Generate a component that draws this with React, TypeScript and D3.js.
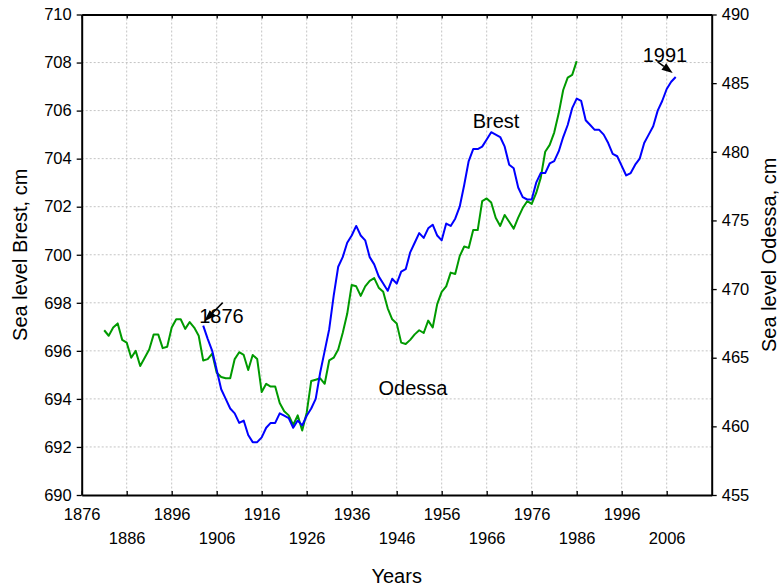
import React, { useRef, useEffect } from 'react';
import * as d3 from 'd3';

const W = 783;
const H = 587;
const plot = { left: 81.7, right: 711.7, top: 14.5, bottom: 495 };

// tick values
const yearTicks = [1876, 1886, 1896, 1906, 1916, 1926, 1936, 1946, 1956, 1966, 1976, 1986, 1996, 2006];
const brestTicks = [690, 692, 694, 696, 698, 700, 702, 704, 706, 708, 710];
const odessaTicks = [455, 460, 465, 470, 475, 480, 485, 490];

// Odessa sea level (right axis), yearly from 1881
const odessaStart = 1881;
const odessaLevel = [
    467.0, 466.6, 467.2, 467.5, 466.3, 466.1, 465.0, 465.5, 464.4, 465.0,
    465.6, 466.7, 466.7, 465.7, 465.8, 467.2, 467.8, 467.8, 467.1, 467.6,
    467.2, 466.6, 464.8, 464.9, 465.3, 463.9, 463.6, 463.5, 463.5, 464.9,
    465.4, 465.2, 464.1, 465.2, 464.9, 462.5, 463.1, 462.9, 462.9, 461.7,
    461.1, 460.8, 460.1, 460.8, 459.7, 461.0, 463.3, 463.4, 463.5, 463.1,
    464.8, 465.0, 465.6, 466.8, 468.2, 470.3, 470.2, 469.5, 470.2, 470.6,
    470.8, 470.1, 469.8, 468.6, 467.8, 467.5, 466.1, 466.0, 466.3, 466.7,
    467.0, 466.8, 467.7, 467.2, 468.9, 469.8, 470.2, 471.2, 471.1, 472.4,
    473.1, 473.0, 474.3, 474.3, 476.4, 476.6, 476.3, 475.2, 474.6, 475.4,
    474.9, 474.4, 475.2, 475.9, 476.4, 476.2, 477.0, 478.1, 480.0, 480.5,
    481.4, 482.8, 484.5, 485.4, 485.6, 486.6
];

// Brest sea level (left axis), plotted from 1903 (shifted series)
const brestStart = 1903;
const brestLevel = [
    697.05, 696.5, 696.0, 695.2, 694.4, 694.0, 693.6, 693.4, 693.0, 693.1,
    692.5, 692.2, 692.2, 692.4, 692.8, 693.0, 693.0, 693.4, 693.3, 693.2,
    692.8, 693.1, 692.9, 693.3, 693.6, 694.0, 695.1, 696.0, 696.9, 698.3,
    699.5, 699.9, 700.5, 700.8, 701.2, 700.8, 700.6, 699.9, 699.6, 699.1,
    698.8, 698.5, 699.0, 698.8, 699.3, 699.4, 700.1, 700.5, 700.9, 700.7,
    701.1, 701.25, 700.8, 700.6, 701.3, 701.2, 701.5, 702.0, 702.9, 703.9,
    704.4, 704.4, 704.5, 704.8, 705.1, 705.0, 704.9, 704.5, 703.75, 703.6,
    702.8, 702.4, 702.3, 702.3, 703.0, 703.4, 703.4, 703.8, 703.9, 704.3,
    704.9, 705.4, 706.1, 706.5, 706.4, 705.6, 705.4, 705.2, 705.2, 705.0,
    704.65, 704.2, 704.1, 703.7, 703.3, 703.4, 703.75, 704.0, 704.65, 705.0,
    705.35, 706.0, 706.4, 706.9, 707.2, 707.4
];

const FONT = "'Liberation Sans', Arial, Helvetica, sans-serif";

const SeaLevelChart = () => {
    const ref = useRef<SVGSVGElement | null>(null);

    useEffect(() => {
        const svg = d3.select(ref.current);
        if (!ref.current) return;
        svg.selectAll("*").remove();

        const x = d3.scaleLinear().domain([1876, 2016]).range([plot.left, plot.right]);
        const yL = d3.scaleLinear().domain([690, 710]).range([plot.bottom, plot.top]);
        const yR = d3.scaleLinear().domain([455, 490]).range([plot.bottom, plot.top]);

        // grid
        const grid = svg.append("g")
            .attr("stroke", "#c4c4c4")
            .attr("stroke-width", 1)
            .attr("stroke-dasharray", "2,2");
        grid.selectAll("line.v")
            .data(yearTicks.slice(1))
            .enter().append("line")
            .attr("x1", d => x(d)).attr("x2", d => x(d))
            .attr("y1", plot.top).attr("y2", plot.bottom);
        grid.selectAll("line.h")
            .data(brestTicks.slice(1, -1))
            .enter().append("line")
            .attr("y1", d => yL(d)).attr("y2", d => yL(d))
            .attr("x1", plot.left).attr("x2", plot.right);

        // series lines
        const odessaData = odessaLevel.map((v, i) => [odessaStart + i, v]);
        const brestData = brestLevel.map((v, i) => [brestStart + i, v]);

        svg.append("path")
            .datum(odessaData)
            .attr("fill", "none")
            .attr("stroke", "#009a00")
            .attr("stroke-width", 2)
            .attr("stroke-linejoin", "round")
            .attr("d", d3.line().x(d => x(d[0])).y(d => yR(d[1])));

        svg.append("path")
            .datum(brestData)
            .attr("fill", "none")
            .attr("stroke", "#0000ff")
            .attr("stroke-width", 2)
            .attr("stroke-linejoin", "round")
            .attr("d", d3.line().x(d => x(d[0])).y(d => yL(d[1])));

        const styleAxis = (g) => {
            g.attr("font-family", FONT).attr("font-size", 16.5);
            g.select(".domain").attr("stroke", "#000").attr("stroke-width", 2);
            g.selectAll(".tick line").attr("stroke", "#000").attr("stroke-width", 1.3);
            g.selectAll(".tick text").attr("fill", "#000");
        };

        // bottom axis, labels in two staggered rows
        const bottom = svg.append("g")
            .attr("transform", `translate(0,${plot.bottom})`)
            .call(d3.axisBottom(x).tickValues(yearTicks).tickSizeInner(-4).tickSizeOuter(0).tickFormat(d3.format("d")));
        styleAxis(bottom);
        bottom.selectAll(".tick text")
            .attr("dy", null)
            .attr("y", (d, i) => (i % 2 === 0 ? 25 : 49));

        // top axis, ticks only
        const top = svg.append("g")
            .attr("transform", `translate(0,${plot.top})`)
            .call(d3.axisTop(x).tickValues(yearTicks).tickSizeInner(-4).tickSizeOuter(0).tickFormat(() => ""));
        styleAxis(top);

        // left axis
        const left = svg.append("g")
            .attr("transform", `translate(${plot.left},0)`)
            .call(d3.axisLeft(yL).tickValues(brestTicks).tickSize(5).tickSizeOuter(0).tickPadding(5));
        styleAxis(left);

        // right axis
        const right = svg.append("g")
            .attr("transform", `translate(${plot.right},0)`)
            .call(d3.axisRight(yR).tickValues(odessaTicks).tickSize(5).tickSizeOuter(0).tickPadding(5));
        styleAxis(right);

        // axis titles
        const midX = (plot.left + plot.right) / 2;
        const midY = (plot.top + plot.bottom) / 2;
        svg.append("text")
            .attr("x", midX).attr("y", 583)
            .attr("text-anchor", "middle")
            .attr("font-family", FONT).attr("font-size", 20)
            .text("Years");
        svg.append("text")
            .attr("transform", `translate(27,${midY}) rotate(-90)`)
            .attr("text-anchor", "middle")
            .attr("font-family", FONT).attr("font-size", 20)
            .text("Sea level Brest, cm");
        svg.append("text")
            .attr("transform", `translate(776,${midY}) rotate(-90)`)
            .attr("text-anchor", "middle")
            .attr("font-family", FONT).attr("font-size", 20)
            .text("Sea level Odessa, cm");

        // series labels
        svg.append("text")
            .attr("x", 496).attr("y", 128)
            .attr("text-anchor", "middle")
            .attr("font-family", FONT).attr("font-size", 20)
            .text("Brest");
        svg.append("text")
            .attr("x", 413).attr("y", 395)
            .attr("text-anchor", "middle")
            .attr("font-family", FONT).attr("font-size", 20)
            .text("Odessa");

        // arrows pointing at the ends of the Brest series
        const arrow = (tx, ty, fx, fy, len, half) => {
            const ang = Math.atan2(ty - fy, tx - fx);
            const bx = tx - len * Math.cos(ang), by = ty - len * Math.sin(ang);
            svg.append("line")
                .attr("x1", fx).attr("y1", fy).attr("x2", bx).attr("y2", by)
                .attr("stroke", "#000").attr("stroke-width", 1.5);
            svg.append("path")
                .attr("d", `M${tx},${ty}L${bx + half * Math.sin(ang)},${by - half * Math.cos(ang)}L${bx - half * Math.sin(ang)},${by + half * Math.cos(ang)}Z`)
                .attr("fill", "#000");
        };

        const first = brestData[0];
        const last = brestData[brestData.length - 1];
        const fx = x(first[0]), fy = yL(first[1]);
        const lx = x(last[0]), ly = yL(last[1]);

        svg.append("text")
            .attr("x", fx - 4).attr("y", fy - 3)
            .attr("font-family", FONT).attr("font-size", 20)
            .text("1876");
        arrow(fx + 1, fy - 4, fx + 19.5, fy - 23, 12, 4);

        svg.append("text")
            .attr("x", lx - 33).attr("y", ly - 15)
            .attr("font-family", FONT).attr("font-size", 20)
            .text("1991");
        arrow(lx - 3, ly - 4, lx - 18, ly - 15, 11, 4);
    }, []);

    return <svg ref={ref} width={W} height={H} style={{ position: "absolute", left: 0, top: 0, background: "#fff" }} />;
};

export default function App() {
    return <SeaLevelChart />;
}
